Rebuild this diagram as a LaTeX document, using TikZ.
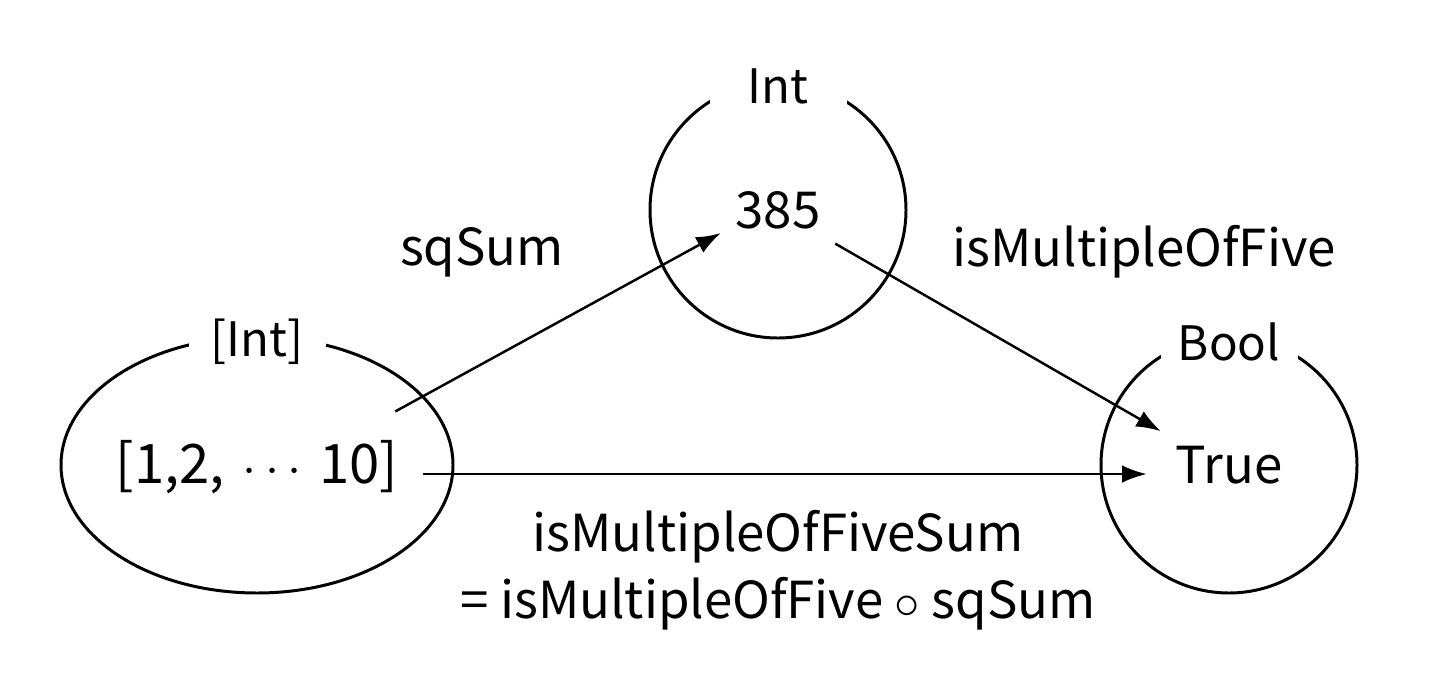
\documentclass[tikz,border=0pt]{standalone}
\usepackage{fontspec}
\setmainfont{Noto Sans CJK JP}
\usepackage{tikz}
\usetikzlibrary{shapes.geometric,arrows.meta,calc}
\tikzset{
  settype/.style={fill=white,inner xsep=0pt,inner ysep=2pt,minimum width=1.37cm,font=\fontsize{13.5}{15}\selectfont},
  elem/.style={inner sep=4pt,font=\fontsize{14.5}{17}\selectfont},
  arr/.style={-{Latex[length=7pt,width=5pt]},line width=0.7pt}
}
\begin{document}
\begin{tikzpicture}
              \useasboundingbox (0,0) rectangle (14.37,-6.75);
              \node[ellipse,draw,line width=0.85pt,minimum width=3.92cm,minimum height=2.56cm](lists)at(2.57,-4.65){};
              \node[circle,draw,line width=0.85pt,minimum size=2.56cm](ints)at(7.78,-2.10){};
              \node[circle,draw,line width=0.85pt,minimum size=2.56cm](bools)at(12.29,-4.65){};
              \node[settype](tl)at([yshift=-0.06cm]lists.north){[Int]};
              \node[settype](ti)at([yshift=-0.06cm]ints.north){Int};
              \node[settype](tb)at([yshift=-0.06cm]bools.north){Bool};
              \node[elem,font=\fontsize{15.5}{18}\selectfont](xs)at(2.57,-4.67){[1,2,\hspace{5pt}$\cdots$\hspace{5pt}10]};
              \node[elem](n)at(7.78,-2.10){385};
              \node[elem](b)at(12.29,-4.65){True};
              \draw[arr] ([xshift=-5pt,yshift=4pt]xs.north east) -- ([yshift=3pt]n.south west);
              \draw[arr] (n.south east) -- (b.north west);
              \draw[arr] ([xshift=3pt,yshift=-2pt]xs.east) -- ([xshift=-4pt,yshift=-2pt]xs.east -| b.west);
              \node[elem](f)at(4.82,-2.52){sqSum};
              \node[elem](g)at(11.44,-2.52){isMultipleOfFive};
              \node[elem,align=center](h)at(7.78,-5.70){isMultipleOfFiveSum\\[2pt]= isMultipleOfFive $\circ$ sqSum};
            \end{tikzpicture}
\end{document}
